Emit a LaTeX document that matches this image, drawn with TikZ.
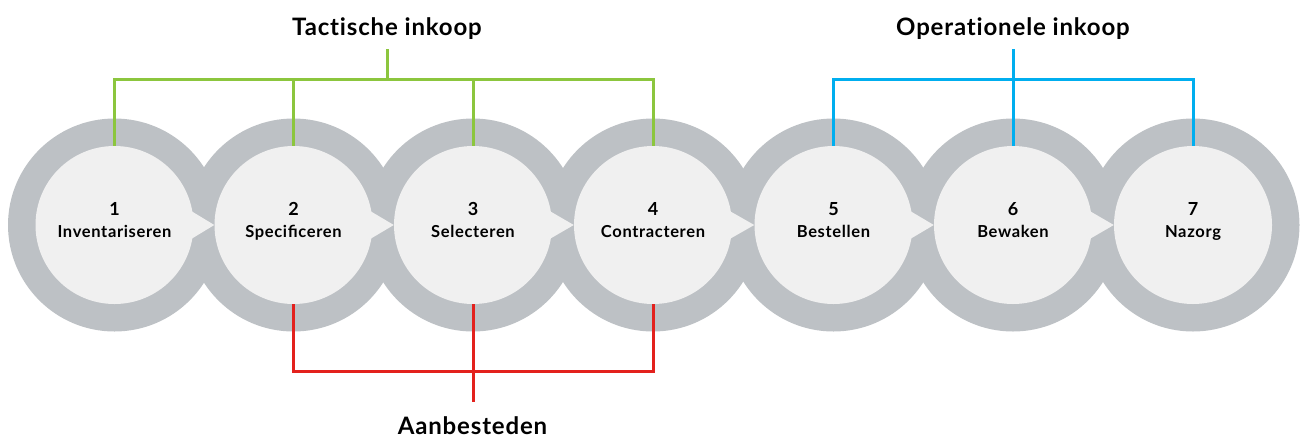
\documentclass[tikz,border=0pt]{standalone}
\usepackage{fontspec}
\setmainfont{Lato}
\usetikzlibrary{calc}
\definecolor{ringgray}{HTML}{BDC1C5}
\definecolor{innergray}{HTML}{F0F0F0}
\definecolor{tgreen}{HTML}{8CC63E}
\definecolor{oblue}{HTML}{00AEEF}
\definecolor{ared}{HTML}{E3211D}
\newfontfamily\lblfont[LetterSpace=4]{Lato}
\newfontfamily\ttlfont[LetterSpace=3.5,Ligatures=NoCommon]{Lato}
\begin{document}
\begin{tikzpicture}[x=1pt,y=-1pt,
  ring/.style={circle,fill=ringgray,minimum size=213pt,inner sep=0pt},
  disc/.style={circle,fill=innergray,minimum size=158pt,inner sep=0pt},
  wedgefill/.style={fill=innergray},
  numtext/.style={font=\fontsize{18}{20}\selectfont\bfseries,inner sep=0pt,anchor=base},
  labtext/.style={font=\lblfont\fontsize{16.5}{18}\selectfont\bfseries,inner sep=0pt,anchor=base},
  title/.style={font=\ttlfont\fontsize{24}{26}\selectfont\bfseries,inner sep=0pt,anchor=base},
  bracket/.style={line width=3pt}]
\useasboundingbox (0,0) rectangle (1300,437);
\def\cy{225}
\foreach \i/\x in {1/114.5,2/293.5,3/473,4/653,5/833.5,6/1013,7/1193}
  \node[ring] (r\i) at (\x,\cy) {};
\foreach \i/\x in {1/114.5,2/293.5,3/473,4/653,5/833.5,6/1013,7/1193}
  \node[disc] (c\i) at (\x,\cy) {};
\foreach \i in {1,...,6}{
  \pgfmathtruncatemacro{\j}{\i+1}
  \fill[wedgefill] ($(c\i.center)+(10:78.5)$) -- (c\j.west) -- ($(c\i.center)+(-10:78.5)$) -- cycle;
}
\foreach \i/\x/\lab in {1/114.5/Inventariseren,2/293.5/Specificeren,3/473/Selecteren,4/653/Contracteren,5/833.5/Bestellen,6/1013/Bewaken,7/1193/Nazorg}{
  \node[numtext] (n\i) at (\x,215) {\i};
  \node[labtext] (l\i) at (\x,237) {\lab};
}
% Tactische inkoop
\node[title] (tt) at (387,35) {Tactische inkoop};
\coordinate (gt) at (387,49);
\coordinate (gh) at (387,79);
\draw[bracket,tgreen] (c1.north) -- (c1.north |- gh) -- (c4.north |- gh) -- (c4.north);
\draw[bracket,tgreen] (c2.north |- gh) -- (c2.north);
\draw[bracket,tgreen] (c3.north |- gh) -- (c3.north);
\draw[bracket,tgreen] (gt) -- (gh);
% Operationele inkoop
\node[title] (ot) at (1013,35) {Operationele inkoop};
\coordinate (bt) at (1013,49);
\coordinate (bh) at (1013,79);
\draw[bracket,oblue] (c5.north) -- (c5.north |- bh) -- (c7.north |- bh) -- (c7.north);
\draw[bracket,oblue] (bt) -- (c6.north);
% Aanbesteden
\node[title] (at) at (472.5,434) {Aanbesteden};
\coordinate (rh) at (473,371);
\coordinate (rb) at (473,402);
\draw[bracket,ared] (c2.south) -- (c2.south |- rh) -- (c4.south |- rh) -- (c4.south);
\draw[bracket,ared] (c3.south) -- (rb);
\end{tikzpicture}
\end{document}
